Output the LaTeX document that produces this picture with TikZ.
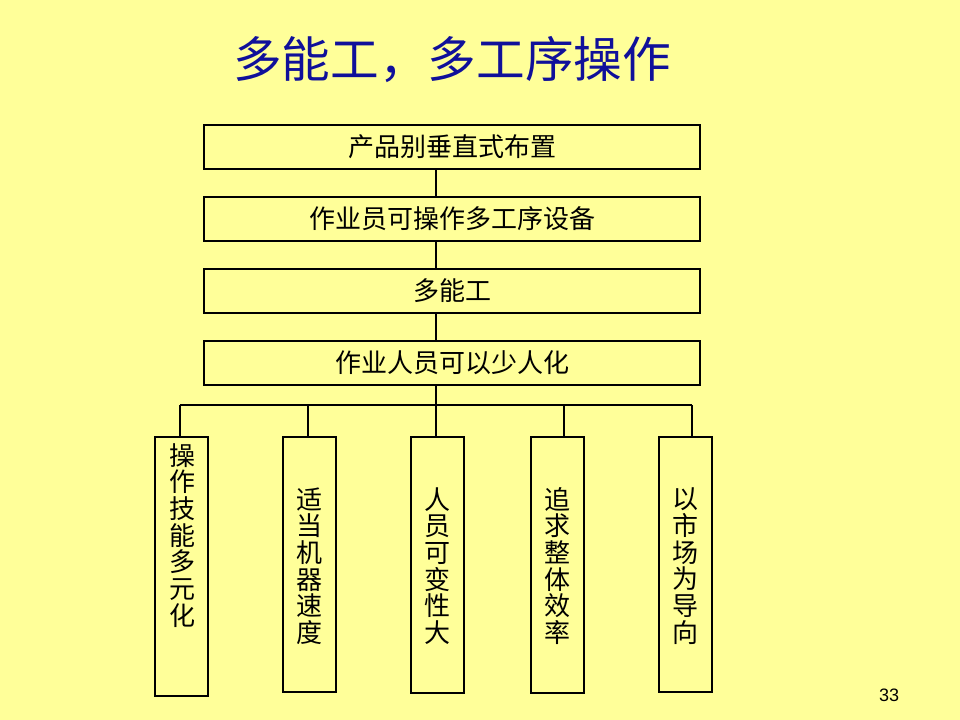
\documentclass[tikz,border=0pt]{standalone}
\usepackage{fontspec}
\newfontfamily\cjk{Noto Sans CJK SC}
\newfontfamily\lsans{Liberation Sans}
\definecolor{bgyellow}{RGB}{255,255,153}
\definecolor{titleblue}{RGB}{16,16,154}
\begin{document}
\begin{tikzpicture}[x=0.75pt,y=-0.75pt,
  wide/.style={draw=black,line width=1.5pt,minimum width=372pt,minimum height=33pt,inner sep=0pt,
    font={\cjk\fontsize{19.5}{20}\selectfont}},
  tall/.style={draw=black,line width=1.5pt,minimum width=40pt,inner sep=0pt},
  vtext/.style={align=center,inner sep=0pt,font={\cjk\fontsize{19.5}{20}\selectfont}},
  conn/.style={line width=1.5pt}]
\fill[bgyellow] (0,0) rectangle (960,720);
\useasboundingbox (0,0) rectangle (960,720);
\node[font={\cjk\fontsize{36.5}{40}\selectfont},text=titleblue] (title) at (452,60) {多能工，多工序操作};
\node[wide] (b1) at (452,147) {产品别垂直式布置};
\node[wide] (b2) at (452,219) {作业员可操作多工序设备};
\node[wide] (b3) at (452,291) {多能工};
\node[wide] (b4) at (452,363) {作业人员可以少人化};
\node[tall,minimum height=194pt] (c1) at (181.5,566.5) {};
\node[tall,minimum height=191pt] (c2) at (309.5,564.5) {};
\node[tall,minimum height=192pt] (c3) at (437.5,565) {};
\node[tall,minimum height=192pt] (c4) at (557.5,565) {};
\node[tall,minimum height=191pt] (c5) at (685.5,564.5) {};
\node[vtext,anchor=north] (t1) at (182,443) {操\\作\\技\\能\\多\\元\\化};
\node[vtext] (t2) at (309.5,566) {适\\当\\机\\器\\速\\度};
\node[vtext] (t3) at (437.5,566) {人\\员\\可\\变\\性\\大};
\node[vtext] (t4) at (557.5,566) {追\\求\\整\\体\\效\\率};
\node[vtext] (t5) at (685.5,566) {以\\市\\场\\为\\导\\向};
\node[font={\lsans\fontsize{13.5}{15}\selectfont}] (pg) at (889,695) {33};
\coordinate (k1) at (180,405);
\coordinate (k2) at (308,405);
\coordinate (k3) at (436,405);
\coordinate (k4) at (564,405);
\coordinate (k5) at (692,405);
\draw[conn] (k3 |- b1.south) -- (k3 |- b2.north);
\draw[conn] (k3 |- b2.south) -- (k3 |- b3.north);
\draw[conn] (k3 |- b3.south) -- (k3 |- b4.north);
\draw[conn] (k3 |- b4.south) -- (k3 |- c3.north);
\draw[conn] (k1) -- (k5);
\draw[conn] (k1) -- (k1 |- c1.north);
\draw[conn] (k2) -- (k2 |- c2.north);
\draw[conn] (k4) -- (k4 |- c4.north);
\draw[conn] (k5) -- (k5 |- c5.north);
\end{tikzpicture}
\end{document}
